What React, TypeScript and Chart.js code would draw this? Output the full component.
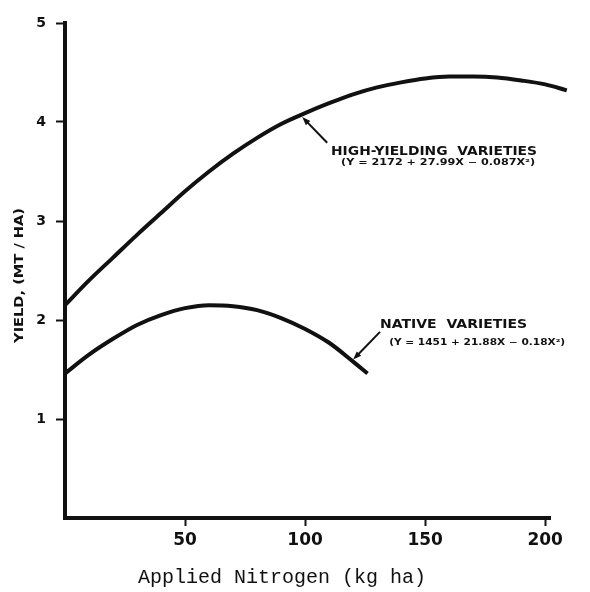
import { useEffect, useRef } from "react";
import { Chart, registerables } from "chart.js";

Chart.register(...registerables);

// Data (yield in MT/HA, nitrogen in kg/ha)
const nitrogenHigh = [0, 10, 20, 30, 40, 50, 60, 70, 80, 90, 100, 110, 120, 130, 140, 150, 160, 170, 180, 190, 200, 209];
const yieldHigh = [2.15, 2.40, 2.63, 2.86, 3.08, 3.30, 3.50, 3.68, 3.84, 3.98, 4.09, 4.19, 4.28, 4.35, 4.40, 4.44, 4.46, 4.46, 4.45, 4.42, 4.38, 4.32];

const nitrogenNative = [0, 10, 20, 30, 40, 50, 60, 70, 80, 90, 100, 110, 120, 126];
const yieldNative = [1.46, 1.65, 1.81, 1.95, 2.05, 2.12, 2.15, 2.14, 2.10, 2.02, 1.91, 1.77, 1.58, 1.46];

const xTicks = [50, 100, 150, 200];
const yTicks = [1, 2, 3, 4, 5];

const xTitle = "Applied Nitrogen (kg ha)";
const yTitle = "YIELD, (MT / HA)";

const highLabel = "HIGH-YIELDING  VARIETIES";
const highEquation = "(Y = 2172 + 27.99X \u2212 0.087X\u00B2)";
const nativeLabel = "NATIVE  VARIETIES";
const nativeEquation = "(Y = 1451 + 21.88X \u2212 0.18X\u00B2)";

// annotation anchors, in data units: [xStart, xEnd, y]
const highLabelAnchor = [110.8, 196.6, 3.7];
const highEquationAnchor = [115, 195.8, 3.59];
const nativeLabelAnchor = [131.2, 192.5, 1.95];
const nativeEquationAnchor = [135, 208.3, 1.77];
// arrows: [tailX, tailY, tipX, tipY]
const highArrow = [109.2, 3.79, 98.8, 4.05];
const nativeArrow = [131.2, 1.88, 120, 1.6];

const INK = "#111111";
const SANS = "'DejaVu Sans', 'Liberation Sans', Arial, sans-serif";

const annotationPlugin = {
  id: "annotations",
  afterDraw(chart: any) {
    const { ctx, scales } = chart;
    const xs = scales.x;
    const ys = scales.y;

    const fitText = (str: string, anchor: number[], font: string) => {
      const x0 = xs.getPixelForValue(anchor[0]);
      const x1 = xs.getPixelForValue(anchor[1]);
      const yy = ys.getPixelForValue(anchor[2]);
      ctx.save();
      ctx.font = font;
      ctx.fillStyle = INK;
      ctx.textBaseline = "middle";
      ctx.textAlign = "left";
      const w = ctx.measureText(str).width;
      ctx.translate(x0, yy);
      ctx.scale((x1 - x0) / w, 1);
      ctx.fillText(str, 0, 0);
      ctx.restore();
    };

    const arrow = (a: number[]) => {
      const tx = xs.getPixelForValue(a[0]);
      const ty = ys.getPixelForValue(a[1]);
      const hx = xs.getPixelForValue(a[2]);
      const hy = ys.getPixelForValue(a[3]);
      const ang = Math.atan2(hy - ty, hx - tx);
      const len = 9;
      ctx.save();
      ctx.strokeStyle = INK;
      ctx.fillStyle = INK;
      ctx.lineWidth = 2;
      ctx.beginPath();
      ctx.moveTo(tx, ty);
      ctx.lineTo(hx - Math.cos(ang) * 4, hy - Math.sin(ang) * 4);
      ctx.stroke();
      ctx.beginPath();
      ctx.moveTo(hx, hy);
      ctx.lineTo(hx - len * Math.cos(ang - 0.35), hy - len * Math.sin(ang - 0.35));
      ctx.lineTo(hx - len * Math.cos(ang + 0.35), hy - len * Math.sin(ang + 0.35));
      ctx.closePath();
      ctx.fill();
      ctx.restore();
    };

    fitText(highLabel, highLabelAnchor, `bold 13px ${SANS}`);
    fitText(highEquation, highEquationAnchor, `bold 8px ${SANS}`);
    fitText(nativeLabel, nativeLabelAnchor, `bold 13px ${SANS}`);
    fitText(nativeEquation, nativeEquationAnchor, `bold 8px ${SANS}`);
    arrow(highArrow);
    arrow(nativeArrow);

    // axis titles
    ctx.save();
    ctx.fillStyle = INK;
    ctx.font = "20px 'Liberation Mono', 'DejaVu Sans Mono', monospace";
    ctx.textAlign = "center";
    ctx.textBaseline = "middle";
    ctx.fillText(xTitle, xs.getPixelForValue(90.4), xs.top + 60);
    ctx.restore();

    ctx.save();
    ctx.fillStyle = INK;
    ctx.font = `bold 12px ${SANS}`;
    ctx.textAlign = "center";
    ctx.textBaseline = "middle";
    const w = ctx.measureText(yTitle).width;
    ctx.translate(ys.left + 20, ys.getPixelForValue(2.45));
    ctx.rotate(-Math.PI / 2);
    ctx.scale(135 / w, 1);
    ctx.fillText(yTitle, 0, 0);
    ctx.restore();
  },
};

export default function App() {
  const canvasRef = useRef<HTMLCanvasElement | null>(null);

  useEffect(() => {
    if (!canvasRef.current) return;
    const chart = new Chart(canvasRef.current, {
      type: "line",
      data: {
        datasets: [
          {
            label: "High-yielding varieties",
            data: nitrogenHigh.map((n, i) => ({ x: n, y: yieldHigh[i] })),
            borderColor: INK,
            borderWidth: 4,
            pointRadius: 0,
            cubicInterpolationMode: "monotone",
            fill: false,
            clip: false as any,
          },
          {
            label: "Native varieties",
            data: nitrogenNative.map((n, i) => ({ x: n, y: yieldNative[i] })),
            borderColor: INK,
            borderWidth: 4,
            pointRadius: 0,
            cubicInterpolationMode: "monotone",
            fill: false,
            clip: false as any,
          },
        ],
      },
      options: {
        animation: false,
        responsive: true,
        maintainAspectRatio: false,
        layout: { padding: { left: 0, right: 40, top: 23, bottom: 0 } },
        plugins: {
          legend: { display: false },
          tooltip: { enabled: false },
        },
        scales: {
          x: {
            type: "linear",
            min: 0,
            max: 202,
            afterBuildTicks: (scale: any) => {
              scale.ticks = xTicks.map((v) => ({ value: v }));
            },
            afterFit: (scale: any) => {
              scale.height = 74;
            },
            grid: {
              drawOnChartArea: false,
              drawTicks: true,
              tickLength: 8,
              tickColor: INK,
              tickWidth: 2,
            },
            border: { display: true, color: INK, width: 4 },
            ticks: {
              color: INK,
              padding: 4,
              maxRotation: 0,
              font: { family: SANS, size: 17, weight: "bold" },
            },
          },
          y: {
            type: "linear",
            min: 0,
            max: 5,
            afterBuildTicks: (scale: any) => {
              scale.ticks = yTicks.map((v) => ({ value: v }));
            },
            afterFit: (scale: any) => {
              scale.width = 65;
            },
            grid: {
              drawOnChartArea: false,
              drawTicks: true,
              tickLength: 9,
              tickColor: INK,
              tickWidth: 2,
            },
            border: { display: true, color: INK, width: 4 },
            ticks: {
              color: INK,
              padding: 10,
              font: { family: SANS, size: 14, weight: "bold" },
            },
          },
        },
      },
      plugins: [annotationPlugin],
    });
    return () => chart.destroy();
  }, []);

  return (
    <div
      style={{
        position: "absolute",
        left: 0,
        top: 0,
        width: 590,
        height: 592,
        background: "#ffffff",
      }}
    >
      <canvas ref={canvasRef} />
    </div>
  );
}
